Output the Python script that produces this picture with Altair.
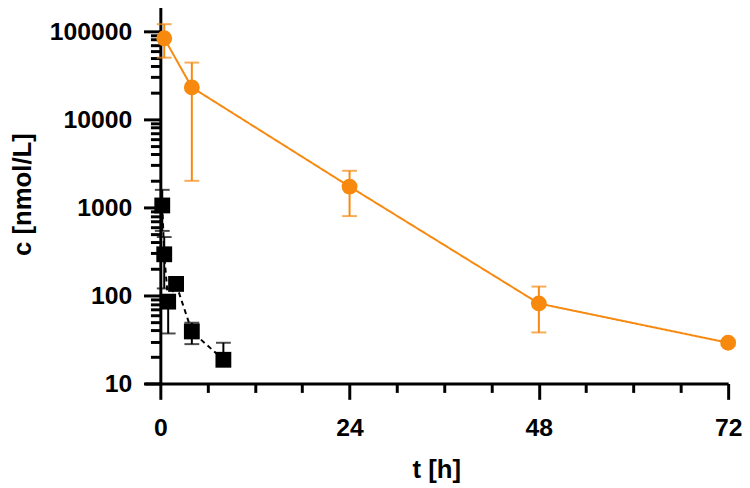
import altair as alt
import pandas as pd

series_names = ["Liver", "Plasma"]
series_colors = ["#F7890F", "#000000"]

liver_t = [0.5, 4, 24, 48, 72]
liver_c = [83000, 23000, 1720, 81, 29]
liver_hi = [120000, 44000, 2600, 126, 31]
liver_lo = [50000, 2000, 795, 38, 27]

plasma_t = [0.25, 0.5, 1, 2, 4, 8]
plasma_c = [1050, 293, 85, 135, 39, 18.6]
plasma_hi = [1580, 460, 100, 150, 49, 29]
plasma_lo = [540, 120, 37, 120, 28, 16]

x_ticks = list(range(0, 73, 6))
x_labels = [0, 24, 48, 72]
y_major = [10, 100, 1000, 10000, 100000]
y_ticks = [m * 10 ** k for k in range(1, 5) for m in range(1, 10)] + [100000, 200000]

rows = []
for t, c, hi, lo in zip(liver_t, liver_c, liver_hi, liver_lo):
    rows.append({"series": "Liver", "t": t, "c": c, "hi": hi, "lo": lo})
for t, c, hi, lo in zip(plasma_t, plasma_c, plasma_hi, plasma_lo):
    rows.append({"series": "Plasma", "t": t, "c": c, "hi": hi, "lo": lo})
df = pd.DataFrame(rows)
df["marker"] = df["series"]

FONT = "Liberation Sans"
xl = ",".join(str(v) for v in x_labels)
ym = ",".join(str(v) for v in y_major)

x_enc = alt.X(
    "t:Q",
    scale=alt.Scale(domain=[-2, 72], nice=False, zero=False),
    axis=alt.Axis(
        values=x_ticks,
        labelExpr=f"indexof([{xl}], datum.value) >= 0 ? datum.label : ''",
        tickSize={"condition": {"test": f"indexof([{xl}], datum.value) >= 0", "value": 16}, "value": 9},
        tickWidth=3, domainWidth=3, domainColor="black", tickColor="black",
        labelFont=FONT, labelFontSize=25, labelFontWeight="bold", labelColor="black",
        labelPadding=17, labelFlush=False, labelOverlap=False, grid=False,
        title="t [h]", titleFont=FONT, titleFontSize=26, titleFontWeight="bold",
        titleColor="black", titlePadding=16,
    ),
)

y_scale = alt.Scale(type="log", domain=[10, 200000], nice=False)
y_axis = alt.Axis(
    values=y_ticks,
    labelExpr=f"indexof([{ym}], datum.value) >= 0 ? format(datum.value, 'd') : ''",
    tickSize={"condition": {"test": f"indexof([{ym}], datum.value) >= 0", "value": 17}, "value": 10},
    tickWidth=3, domainWidth=3, domainColor="black", tickColor="black",
    labelFont=FONT, labelFontSize=25, labelFontWeight="bold", labelColor="black",
    labelPadding=12, labelOverlap=False, grid=False, offset=-16,
    title="c [nmol/L]", titleFont=FONT, titleFontSize=26, titleFontWeight="bold",
    titleColor="black", titlePadding=14,
)

base = alt.Chart(df)

errbars = base.mark_errorbar(ticks=True, size=15, thickness=2).encode(
    x=x_enc,
    y=alt.Y("lo:Q", scale=y_scale, axis=y_axis),
    y2="hi:Q",
    color=alt.Color("series:N", scale=alt.Scale(domain=series_names, range=series_colors), legend=None),
)

lines = base.mark_line(strokeWidth=2).encode(
    x=x_enc,
    y=alt.Y("c:Q", scale=y_scale, axis=y_axis),
    color=alt.Color("series:N", scale=alt.Scale(domain=series_names, range=series_colors), legend=None),
    strokeDash=alt.StrokeDash("series:N", scale=alt.Scale(domain=series_names, range=[[1, 0], [5, 4]]), legend=None),
)

legend = alt.Legend(
    title=None, orient="top-right", offset=15, padding=0,
    labelFont=FONT, labelFontSize=17, labelColor="#222222", labelOffset=33,
    symbolSize=256, rowPadding=21,
)
points = base.mark_point(filled=True, size=256, opacity=1).encode(
    x=x_enc,
    y=alt.Y("c:Q", scale=y_scale, axis=y_axis),
    fill=alt.Fill("marker:N", scale=alt.Scale(domain=series_names, range=series_colors), legend=legend),
    shape=alt.Shape("marker:N", scale=alt.Scale(domain=series_names, range=["circle", "square"]), legend=legend),
)

chart = alt.layer(errbars, lines, points).properties(
    width=590, height=383,
    padding={"top": -18, "left": 1, "right": 0, "bottom": 0},
).configure(background="white").configure_view(stroke=None)

chart.save("out.html", embed_options={"renderer": "svg", "actions": False})
